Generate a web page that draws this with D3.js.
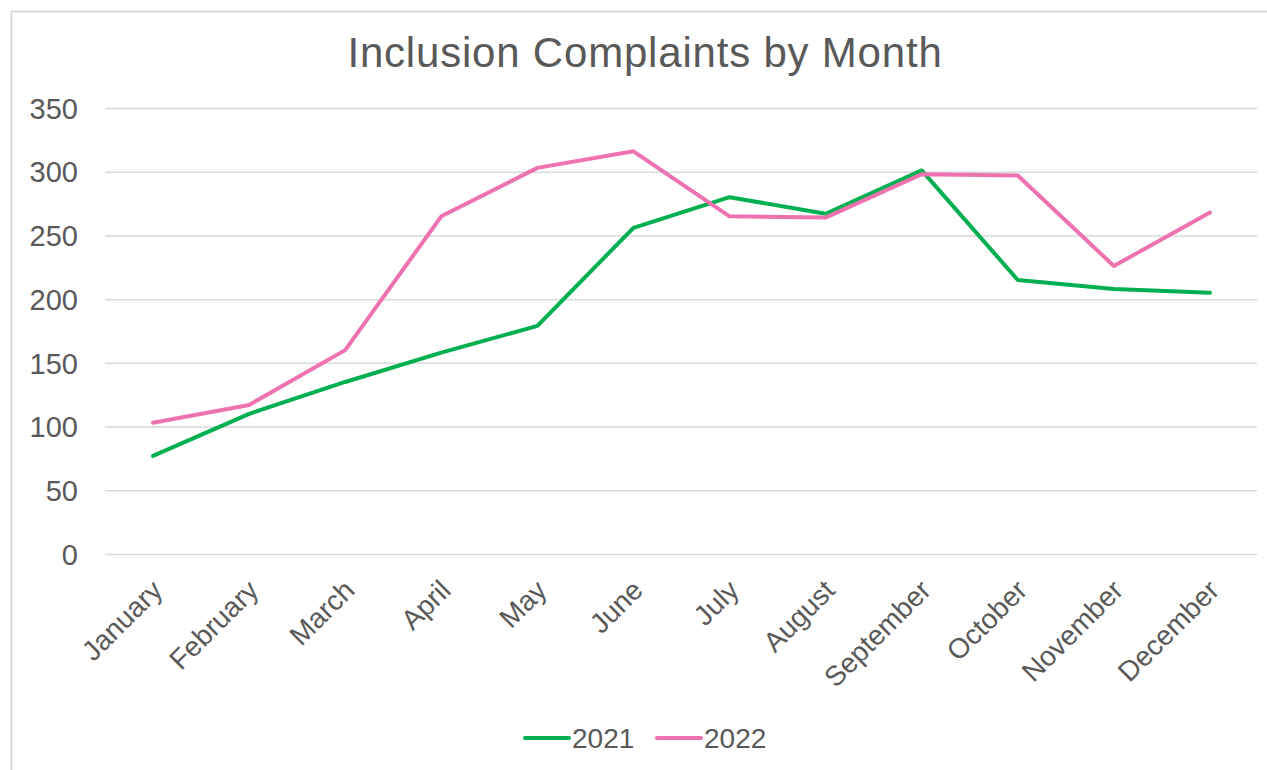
<!DOCTYPE html>
<html>
<head>
<meta charset="utf-8">
<script src="https://cdn.jsdelivr.net/npm/d3@7"></script>
<style>
  html, body { margin: 0; padding: 0; background: #fff; }
  svg { display: block; }
</style>
</head>
<body>
<svg id="chart"></svg>
<script>
// chart data
const months = ["January", "February", "March", "April", "May", "June",
  "July", "August", "September", "October", "November", "December"];
const values2021 = [77, 110, 135, 158, 179, 256, 280, 267, 301, 215, 208, 205];
const values2022 = [103, 117, 160, 265, 303, 316, 265, 264, 298, 297, 226, 268];
const seriesNames = ["2021", "2022"];
const yTicks = [0, 50, 100, 150, 200, 250, 300, 350];

const width = 1267, height = 770;
const textColor = "#595959";
const gridColor = "#D9D9D9";
const colors = ["#00B050", "#EE72B0"];

const margin = { top: 108, right: 10, bottom: 216, left: 105 };

const svg = d3.select("#chart")
  .attr("width", width)
  .attr("height", height);

// outer chart frame
svg.append("rect")
  .attr("x", 11.5)
  .attr("y", 11.5)
  .attr("width", width + 20)
  .attr("height", height + 20)
  .attr("fill", "#fff")
  .attr("stroke", gridColor)
  .attr("stroke-width", 2);

// title
svg.append("text")
  .attr("x", 645)
  .attr("y", 67)
  .attr("text-anchor", "middle")
  .attr("fill", textColor)
  .style("font", "42px 'Liberation Sans', Arial, sans-serif")
  .style("letter-spacing", "0.8px")
  .text("Inclusion Complaints by Month");

const x = d3.scaleBand()
  .domain(months)
  .range([margin.left, 1258]);

const y = d3.scaleLinear()
  .domain([0, 350])
  .range([554, 108]);

// horizontal gridlines
svg.append("g")
  .selectAll("line")
  .data(yTicks)
  .join("line")
    .attr("x1", margin.left)
    .attr("x2", 1257)
    .attr("y1", d => y(d) + 0.5)
    .attr("y2", d => y(d) + 0.5)
    .attr("stroke", gridColor)
    .attr("stroke-width", 1.5);

// y axis labels
const yAxis = d3.axisLeft(y).tickValues(yTicks).tickSize(0).tickPadding(0);
svg.append("g")
  .attr("transform", "translate(78,0)")
  .call(yAxis)
  .call(g => g.select(".domain").remove())
  .call(g => g.selectAll("text")
    .attr("fill", textColor)
    .attr("dy", "0.35em")
    .style("font", "29px 'Liberation Sans', Arial, sans-serif"));

// x axis labels, rotated
const xAxis = d3.axisBottom(x).tickSize(0).tickPadding(0);
svg.append("g")
  .attr("transform", "translate(0,554)")
  .call(xAxis)
  .call(g => g.select(".domain").remove())
  .call(g => g.selectAll("text")
    .attr("fill", textColor)
    .attr("text-anchor", "end")
    .attr("dy", 0)
    .attr("y", 0)
    .attr("transform", "translate(11,38) rotate(-45)")
    .style("font", "28px 'Liberation Sans', Arial, sans-serif"));

// lines
const line = d3.line()
  .x((d, i) => x(months[i]) + x.bandwidth() / 2)
  .y(d => y(d));

const series = [values2021, values2022];
svg.append("g")
  .selectAll("path")
  .data(series)
  .join("path")
    .attr("d", line)
    .attr("fill", "none")
    .attr("stroke", (d, i) => colors[i])
    .attr("stroke-width", 4)
    .attr("stroke-linejoin", "round")
    .attr("stroke-linecap", "round");

// legend
const legendX = [525, 657];
const legend = svg.append("g")
  .selectAll("g")
  .data(seriesNames)
  .join("g")
    .attr("transform", (d, i) => `translate(${legendX[i]},738)`);

legend.append("line")
  .attr("x1", 0)
  .attr("x2", 44)
  .attr("stroke", (d, i) => colors[i])
  .attr("stroke-width", 4)
  .attr("stroke-linecap", "round");

legend.append("text")
  .attr("x", 47)
  .attr("dy", "0.35em")
  .attr("fill", textColor)
  .style("font", "28px 'Liberation Sans', Arial, sans-serif")
  .text(d => d);
</script>
</body>
</html>
